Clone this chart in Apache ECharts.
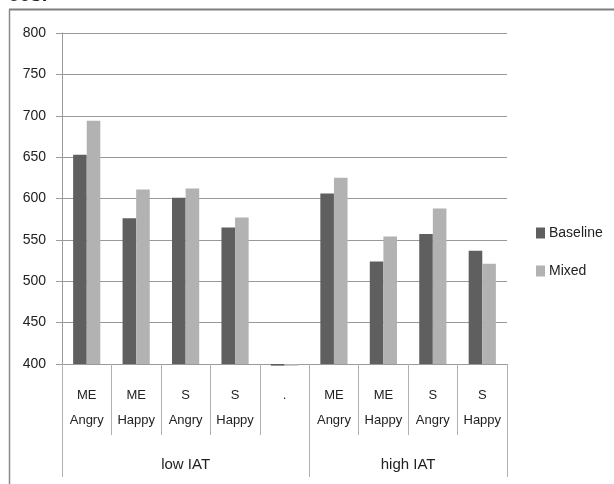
<!DOCTYPE html>
<html>
<head>
<meta charset="utf-8">
<script src="https://cdn.jsdelivr.net/npm/echarts@6/dist/echarts.min.js"></script>
<style>html,body{margin:0;padding:0;background:#fff}#c{width:614px;height:484px}</style>
</head>
<body>
<div id="c"></div>
<script>
// ---- data ----
var groups = ['low IAT', 'high IAT'];
var groupSpans = [5, 4];
var catTop = ['ME', 'ME', 'S', 'S', '.', 'ME', 'ME', 'S', 'S'];
var catBottom = ['Angry', 'Happy', 'Angry', 'Happy', '', 'Angry', 'Happy', 'Angry', 'Happy'];
var baseline = [653, 576, 601, 565, 398, 606, 524, 557, 537];
var mixed = [694, 611, 612, 577, 398, 625, 554, 588, 521];
var yTicks = [400, 450, 500, 550, 600, 650, 700, 750, 800];

// derived
var Y_MIN = 400, CAT_GAP = 0.45;
var groupOf = [];
groups.forEach(function (g, gi) { for (var k = 0; k < groupSpans[gi]; k++) groupOf.push(g); });
var categories = catTop.map(function (t, i) { return groupOf[i] + ' ' + t + ' ' + catBottom[i] + ' #' + i; });
var groupBounds = [0], acc = 0;
groupSpans.forEach(function (s) { acc += s; groupBounds.push(acc); });
var groupCenters = groupSpans.map(function (s, i) { return groupBounds[i] + s / 2; });
var colors = ['#5f5f5f', '#b2b2b2'];
// values that fall below the axis minimum are drawn as short bars hanging under the axis
var belowMin = [];
[baseline, mixed].forEach(function (arr, si) {
  arr.forEach(function (v, i) { if (v < Y_MIN) belowMin.push([i, v, si]); });
});

var FONT = '"Liberation Sans", Arial, sans-serif';
var chart = echarts.init(document.getElementById('c'), null, { renderer: 'canvas' });
chart.setOption({
  animation: false,
  backgroundColor: '#ffffff',
  graphic: [
    { type: 'line', shape: { x1: 9.5, y1: 10, x2: 9.5, y2: 484 }, style: { stroke: '#8a8a8a', lineWidth: 1.5 } },
    { type: 'line', shape: { x1: 9, y1: 9.5, x2: 614, y2: 9.5 }, style: { stroke: '#7f7f7f', lineWidth: 2 } },
    { type: 'text', left: 8, top: -15, style: { text: 'ces:', font: 'bold 20px ' + FONT, fill: '#222' } }
  ],
  legend: {
    orient: 'vertical',
    left: 531, top: 221,
    itemWidth: 9, itemHeight: 11, itemGap: 24,
    icon: 'rect',
    textStyle: { fontFamily: FONT, fontSize: 14, color: '#222', padding: [0, 0, 0, -1] },
    data: ['Baseline', 'Mixed']
  },
  grid: { left: 62, right: 107, top: 33, bottom: 120, containLabel: false },
  xAxis: [
    {
      type: 'category',
      data: categories,
      axisLine: { show: true, lineStyle: { color: '#9a9a9a', width: 1 } },
      axisTick: { show: true, length: 71, lineStyle: { color: '#b0b0b0' } },
      axisLabel: {
        interval: 0, margin: 19, fontFamily: FONT, fontSize: 13, color: '#222', lineHeight: 25,
        formatter: function (v, i) { return catTop[i] + '\n' + catBottom[i]; }
      },
      splitLine: { show: false }
    },
    {
      type: 'value', min: 0, max: 9, position: 'bottom',
      axisLine: { show: false },
      axisTick: { show: true, length: 113, customValues: groupBounds, lineStyle: { color: '#b0b0b0' } },
      axisLabel: {
        margin: 93, fontFamily: FONT, fontSize: 15, color: '#222', customValues: groupCenters,
        formatter: function (v) { var i = groupCenters.indexOf(v); return i >= 0 ? groups[i] : ''; }
      },
      splitLine: { show: false }
    }
  ],
  yAxis: {
    type: 'value', min: Y_MIN, max: 800, interval: 50,
    axisLine: { show: true, lineStyle: { color: '#9a9a9a' } },
    axisTick: { show: true, length: 6, lineStyle: { color: '#9a9a9a' } },
    axisLabel: { margin: 16, fontFamily: FONT, fontSize: 14, color: '#222',
      formatter: function (v) { return yTicks.indexOf(v) >= 0 ? String(v) : ''; } },
    splitLine: { show: true, lineStyle: { color: '#999999', width: 1 } }
  },
  series: [
    { name: 'Baseline', type: 'bar', xAxisIndex: 0, data: baseline, barGap: '0%', barCategoryGap: '45%',
      itemStyle: { color: colors[0] }, z: 3 },
    { name: 'Mixed', type: 'bar', xAxisIndex: 0, data: mixed, barGap: '0%', barCategoryGap: '45%',
      itemStyle: { color: colors[1] }, z: 3 },
    { type: 'custom', xAxisIndex: 0, data: belowMin, clip: false, z: 4, silent: true,
      encode: { x: 0, y: 1 },
      renderItem: function (params, api) {
        var idx = api.value(0), v = api.value(1), side = api.value(2);
        var band = api.size([1, 0])[0];
        var bw = band * (1 - CAT_GAP) / 2;
        var top = api.coord([idx, Y_MIN]);
        var bot = api.coord([idx, v]);
        var x0 = top[0] - bw + side * bw;
        return { type: 'rect', shape: { x: x0, y: top[1], width: bw, height: Math.max(1, bot[1] - top[1]) },
          style: { fill: colors[side] } };
      } }
  ]
});
</script>
</body>
</html>
